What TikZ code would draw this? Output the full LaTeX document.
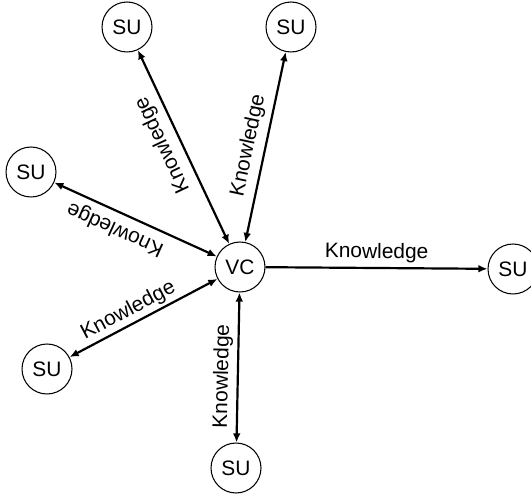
\documentclass[tikz,border=0pt]{standalone}
\usepackage{fontspec}
\setmainfont{Liberation Sans}
\usetikzlibrary{arrows.meta}

\begin{document}
\begin{tikzpicture}[x=0.02cm, y=0.02cm,
    unit/.style={circle, draw, line width=0.6pt, minimum size=1cm, inner sep=0pt,
                 font=\fontsize{11.9}{14}\selectfont},
    arrow/.style={line width=1.25pt, >={Latex[length=5.2pt,width=4.4pt]}},
    lbl/.style={sloped, allow upside down, above, inner sep=2.5pt,
                font=\fontsize{11.9}{14}\selectfont}
]
    \useasboundingbox (0,0) rectangle (531,494);

    % Virtual centre
    \node[unit] (vc) at (240,227) {VC};

    % Secondary users
    \node[unit] (su1) at (127,467) {SU};
    \node[unit] (su2) at (291,467) {SU};
    \node[unit] (su3) at (31,322) {SU};
    \node[unit] (su4) at (513,225) {SU};
    \node[unit] (su5) at (47,125) {SU};
    \node[unit] (su6) at (236,26) {SU};

    % Knowledge exchange
    \draw[arrow, <->] (vc) -- node[lbl, pos=0.55, inner sep=4pt] {Knowledge} (su1);
    \draw[arrow, <->] (vc) -- node[lbl, pos=0.49, inner sep=3.5pt] {Knowledge} (su2);
    \draw[arrow, <->] (vc) -- node[lbl, pos=0.58, inner sep=3.5pt] {Knowledge} (su3);
    \draw[arrow, ->] (vc) -- node[lbl, pos=0.5] {Knowledge} (su4);
    \draw[arrow, <->] (su5) -- node[lbl, pos=0.44, inner sep=1.5pt] {Knowledge} (vc);
    \draw[arrow, <->] (su6) -- node[lbl, pos=0.44] {Knowledge} (vc);

\end{tikzpicture}
\end{document}
